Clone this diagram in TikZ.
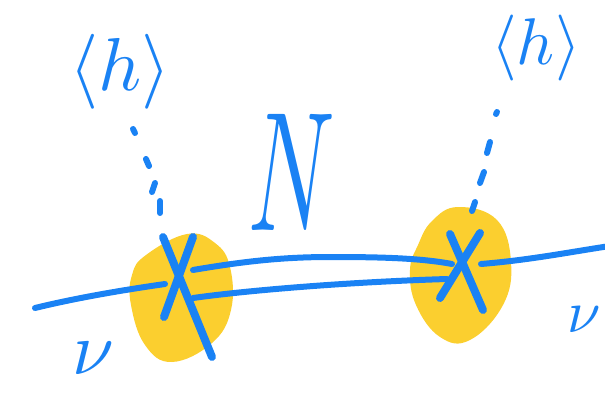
\documentclass[tikz,border=0pt]{standalone}
\usetikzlibrary{calc}
\definecolor{pen}{HTML}{1A82F4}
\definecolor{blob}{HTML}{FBCF2F}
\tikzset{
  ink/.style={draw=pen, line width=6pt, line cap=round, line join=round},
  xink/.style={draw=pen, line width=8pt, line cap=round},
  dot/.style={draw=pen, line width=6pt, line cap=round},
  blobfill/.style={fill=blob, draw=none},
  lbl/.style={text=pen, inner sep=0pt}
}
\begin{document}
\begin{tikzpicture}[x=1pt,y=-1pt]
\useasboundingbox (0,0) rectangle (605,393);
% blobs
\fill[blobfill] plot[smooth cycle, tension=0.7] coordinates {(187,234) (215,243) (230,267) (231,310) (212,343) (172,362) (145,345) (131,305) (132,275) (146,255)};
\fill[blobfill] plot[smooth cycle, tension=0.7] coordinates {(458,207) (497,220) (511,262) (503,305) (470,340) (440,337) (416,305) (410,270) (418,245) (432,221)};
% dotted scalar lines
\draw[dot] (133,129) -- (135,133);
\draw[dot] (146,159) -- (149,166);
\draw[dot] (155,183) -- (152,192);
\draw[dot] (160,201) -- (160,213);
\draw[dot] (497,112) -- (496,114);
\draw[dot] (490,142) -- (487,153);
\draw[dot] (484,172) -- (480,183);
\draw[dot] (475,202) -- (472,211);
% neutrino lines
\coordinate (nuL) at (35,308);
\coordinate (nuR) at (610,246);
\draw[ink] (nuL) .. controls (80,297) and (130,289) .. (165,284);
\draw[ink] (193,270) .. controls (240,262) and (280,257) .. (330,257) .. controls (380,257) and (420,258) .. (452,264);
\draw[ink] (193,298) .. controls (250,290) and (350,282) .. (447,279);
\draw[ink] (481,264) .. controls (530,260) and (570,252) .. (nuR);
% crosses
\draw[xink] (163,237) -- (212,357);
\draw[xink] (193,237) -- (164,317);
\draw[xink] (450,234) -- (483,310);
\draw[xink] (480,233) -- (440,298);
% labels
\node[lbl, scale=7.5] (hL) at (120,72) {$\langle h\rangle$};
\node[lbl, scale=6.6] (hR) at (536,48) {$\langle h\rangle$};
\node[lbl, xscale=9.5, yscale=17] (N) at (292,172) {$N$};
\node[lbl, scale=7.5] (nu1) at (93,358) {$\nu$};
\node[lbl, scale=6] (nu2) at (584,320) {$\nu$};
\end{tikzpicture}
\end{document}
